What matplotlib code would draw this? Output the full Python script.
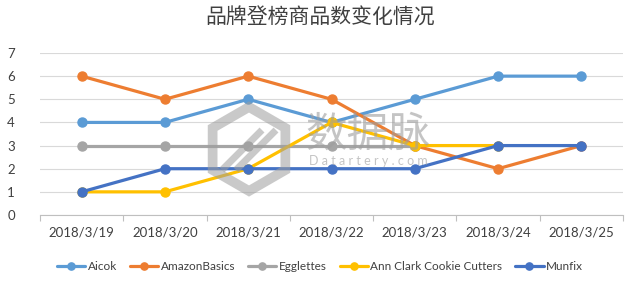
import numpy as np
import matplotlib
matplotlib.use("Agg")
import matplotlib.pyplot as plt
from matplotlib.patches import RegularPolygon

plt.rcParams['font.family'] = ['Lato', 'Noto Sans CJK SC', 'DejaVu Sans']

dates = ["2018/3/19", "2018/3/20", "2018/3/21", "2018/3/22", "2018/3/23", "2018/3/24", "2018/3/25"]
aicok = [4, 4, 5, 4, 5, 6, 6]
amazon = [6, 5, 6, 5, 3, 2, 3]
egglettes = [3, 3, 3, 3, 3, np.nan, np.nan]
annclark = [1, 1, 2, 4, 3, 3, np.nan]
munfix = [1, 2, 2, 2, 2, 3, 3]

series = [
    ("Aicok", aicok, "#5B9BD5"),
    ("AmazonBasics", amazon, "#ED7D31"),
    ("Egglettes", egglettes, "#A5A5A5"),
    ("Ann Clark Cookie Cutters", annclark, "#FFC000"),
    ("Munfix", munfix, "#4472C4"),
]

fig = plt.figure(figsize=(6.4, 2.86), dpi=100)
ax = fig.add_axes([40/640, 1-215/286, 583/640, 162/286])

x = np.arange(len(dates))
for name, vals, col in series:
    ax.plot(x, vals, color=col, lw=2.3, marker='o', markersize=6.5, label=name,
            solid_capstyle='round')

ax.set_xlim(-0.5, len(dates)-0.5)
ax.set_ylim(0, 7)
ax.set_yticks(range(0, 8))
ax.yaxis.grid(True, color='#D9D9D9', lw=0.8)
ax.set_axisbelow(True)
for s in ['top', 'right', 'left']:
    ax.spines[s].set_visible(False)
ax.spines['bottom'].set_color('#BFBFBF')
ax.spines['bottom'].set_linewidth(0.8)
ax.tick_params(axis='y', length=0, labelsize=9.5, colors='#404040', pad=18)
ax.set_xticks(x)
ax.set_xticklabels(dates, fontsize=9.5, color='#404040')
ax.tick_params(axis='x', length=0, pad=8)
ax.set_xticks(np.arange(-0.5, len(dates)), minor=True)
ax.tick_params(axis='x', which='minor', length=4, color='#BFBFBF', width=0.8)

# watermark overlay (pixel coordinates)
wm = fig.add_axes([0, 0, 1, 1], facecolor='none')
wm.set_xlim(0, 640)
wm.set_ylim(286, 0)
wm.axis('off')
hexp = RegularPolygon((249, 149), numVertices=6, radius=42, orientation=0,
                      fill=False, edgecolor='#9E9E9E', lw=7, alpha=0.55)
wm.add_patch(hexp)
for dx in (0, 14):
    wm.plot([222 + dx, 262 + dx], [170, 130], color='#9E9E9E', lw=5, alpha=0.55,
            solid_capstyle='butt')
wm.text(368, 135, "数据脉", fontsize=30, color='#9E9E9E', alpha=0.6,
        family=['Noto Sans CJK SC'], ha='center', va='center')
wm.text(368, 161, "D a t a r t e r y . c o m", fontsize=9, color='#9E9E9E', alpha=0.6,
        ha='center', va='center')

fig.text(0.5, 1-18/286, "品牌登榜商品数变化情况", ha='center', va='center',
         fontsize=15, color='#404040', family=['Noto Sans CJK SC'])

fig.legend(loc='center', bbox_to_anchor=(0.5, 1-267/286), ncol=5, frameon=False,
           fontsize=8.5, handlelength=2.4, handletextpad=0.2, columnspacing=1.1,
           labelcolor='#404040', markerscale=0.8)

fig.savefig("out.png", dpi=100)
